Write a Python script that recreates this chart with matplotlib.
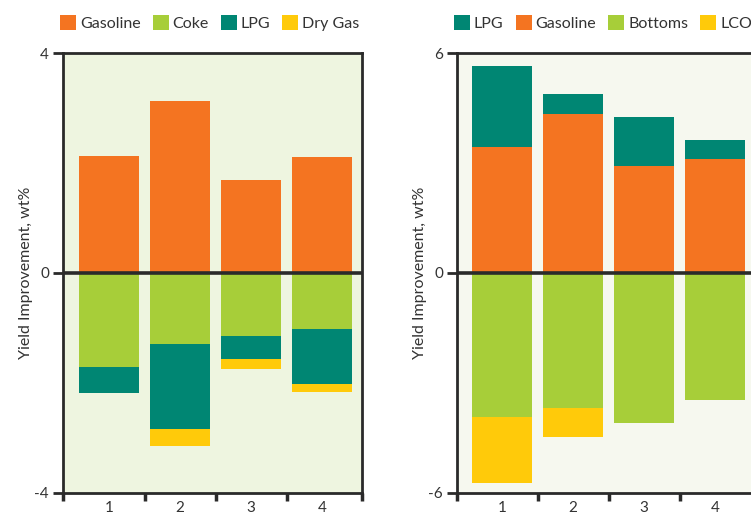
import numpy as np
import matplotlib.pyplot as plt
from matplotlib.patches import Patch

plt.rcParams['font.family'] = ['Lato', 'DejaVu Sans']

# ====== Data ======
cats = ["1", "2", "3", "4"]

# Left panel
left_gasoline = [2.13, 3.13, 1.69, 2.11]
left_coke = [-1.71, -1.29, -1.15, -1.02]
left_lpg = [-0.47, -1.55, -0.41, -1.00]
left_drygas = [0.0, -0.31, -0.19, -0.14]

# Right panel
right_lpg = [2.21, 0.54, 1.33, 0.52]
right_gasoline = [3.44, 4.34, 2.92, 3.11]
right_bottoms = [-3.93, -3.68, -4.09, -3.46]
right_lco = [-1.80, -0.79, 0.0, 0.0]

# ====== Style ======
ORANGE = "#F47421"
LGREEN = "#A7CE39"
TEAL = "#008673"
YELLOW = "#FFCA0A"
DARK = "#2a2a2a"
TXT = "#333333"

x = np.arange(1, len(cats) + 1)
w = 0.845


def style_axes(ax, lim, bg, xlo, xhi):
    ax.set_facecolor(bg)
    ax.set_xlim(xlo, xhi)
    ax.set_ylim(-lim, lim)
    ax.axhline(0, color=DARK, lw=2.6, zorder=3)
    for s in ax.spines.values():
        s.set_color(DARK)
        s.set_linewidth(2.0)
    ax.set_yticks([-lim, 0, lim])
    ax.set_yticklabels([str(-lim), "0", str(lim)])
    ax.tick_params(axis="y", length=7, width=2, color=DARK, labelsize=11,
                   labelcolor=TXT, pad=3)
    ax.set_xticks([xlo, 1.5, 2.5, 3.5, xhi])
    ax.set_xticklabels([])
    ax.tick_params(axis="x", which="major", length=6, width=2.5, color=DARK)
    ax.set_xticks(x, minor=True)
    ax.set_xticklabels(cats, minor=True)
    ax.tick_params(axis="x", which="minor", length=0, labelsize=11,
                   labelcolor=TXT, pad=6)
    ax.set_ylabel("Yield Improvement, wt%", fontsize=11.5, color=TXT,
                  labelpad=1)


def add_legend(ax, labels, colors, x0):
    handles = [Patch(facecolor=c, edgecolor="none") for c in colors]
    ax.legend(handles, labels, ncol=4, loc="lower left",
              bbox_to_anchor=(x0, 1.05), frameon=False, fontsize=11.5,
              handlelength=1.0, handleheight=1.0, handletextpad=0.25,
              columnspacing=0.75, borderaxespad=0, borderpad=0,
              labelcolor=TXT)


fig = plt.figure(figsize=(7.51, 5.14), dpi=100)
ax1 = fig.add_axes([63 / 751, 21 / 514, 299 / 751, 440 / 514])
ax2 = fig.add_axes([457 / 751, 21 / 514, 299 / 751, 440 / 514])

# ---- Left panel ----
ax1.bar(x, left_gasoline, w, color=ORANGE, zorder=2)
ax1.bar(x, left_coke, w, color=LGREEN, zorder=2)
b = np.array(left_coke)
ax1.bar(x, left_lpg, w, bottom=b, color=TEAL, zorder=2)
b = b + np.array(left_lpg)
ax1.bar(x, left_drygas, w, bottom=b, color=YELLOW, zorder=2)
style_axes(ax1, 4, "#EEF5E0", 0.352, 4.563)
add_legend(ax1, ["Gasoline", "Coke", "LPG", "Dry Gas"],
           [ORANGE, LGREEN, TEAL, YELLOW], -0.01)

# ---- Right panel ----
ax2.bar(x, right_gasoline, w, color=ORANGE, zorder=2)
ax2.bar(x, right_lpg, w, bottom=right_gasoline, color=TEAL, zorder=2)
ax2.bar(x, right_bottoms, w, color=LGREEN, zorder=2)
ax2.bar(x, right_lco, w, bottom=right_bottoms, color=YELLOW, zorder=2)
style_axes(ax2, 6, "#F6F8EF", 0.366, 4.577)
add_legend(ax2, ["LPG", "Gasoline", "Bottoms", "LCO"],
           [TEAL, ORANGE, LGREEN, YELLOW], -0.01)

fig.savefig("out.png", dpi=100)
